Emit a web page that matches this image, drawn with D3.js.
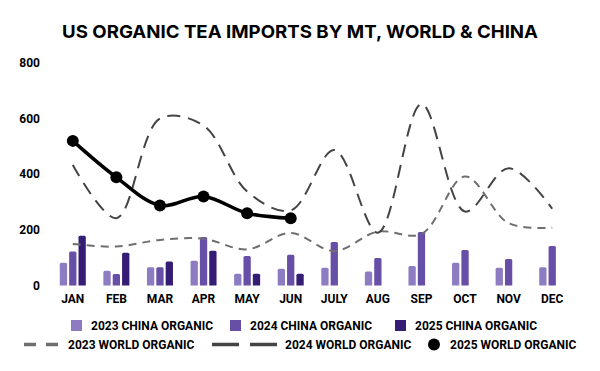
<!DOCTYPE html>
<html>
<head>
<meta charset="utf-8">
<script src="https://cdn.jsdelivr.net/npm/d3@7"></script>
<style>
  body { margin: 0; background: #fff; }
  text { font-family: Roboto, "Liberation Sans", sans-serif; font-weight: bold; fill: #000; }
</style>
</head>
<body>
<svg id="chart" width="600" height="371"></svg>
<script>
// data
var months = ["JAN", "FEB", "MAR", "APR", "MAY", "JUN", "JULY", "AUG", "SEP", "OCT", "NOV", "DEC"];
var china2023 = [82, 53, 66, 89, 42, 60, 64, 50, 70, 82, 64, 66];
var china2024 = [122, 41, 66, 174, 106, 111, 156, 99, 192, 128, 95, 142];
var china2025 = [179, 118, 86, 125, 42, 42];
var world2023 = [149, 140, 164, 168, 130, 189, 124, 194, 185, 392, 224, 208];
var world2024 = [433, 242, 600, 575, 338, 270, 487, 190, 652, 266, 422, 276];
var world2025 = [520, 389, 288, 320, 260, 242];
var yTicks = [0, 200, 400, 600, 800];

var svg = d3.select("#chart");

svg.append("text")
    .attr("x", 300).attr("y", 38)
    .attr("text-anchor", "middle")
    .attr("textLength", 476)
    .attr("lengthAdjust", "spacingAndGlyphs")
    .style("font-family", "Inter, Roboto, sans-serif")
    .style("font-size", "18px")
    .text("US ORGANIC TEA IMPORTS BY MT, WORLD & CHINA");

var x = d3.scaleBand().domain(months).range([51, 574]);
var y = d3.scaleLinear().domain([0, 800]).range([285.5, 63]);
var slot = d3.scaleBand().domain([0, 1, 2]).range([-13, 13]).paddingInner(0.22);

// y axis labels
svg.append("g").selectAll("text")
    .data(yTicks)
    .enter().append("text")
    .attr("x", 40)
    .attr("y", function (d) { return y(d); })
    .attr("dy", "0.35em")
    .attr("text-anchor", "end")
    .style("font-size", "12px")
    .text(function (d) { return d; });

// x axis labels
svg.append("g").selectAll("text")
    .data(months)
    .enter().append("text")
    .attr("x", function (d) { return x(d) + x.bandwidth() / 2; })
    .attr("y", 303)
    .attr("text-anchor", "middle")
    .style("font-size", "12px")
    .text(function (d) { return d; });

// bars
var barSeries = [
    { values: china2023, color: "#8e7cc3" },
    { values: china2024, color: "#674ea7" },
    { values: china2025, color: "#351c75" }
];

function barPath(x0, w, top, bottom, r) {
    return "M" + x0 + "," + bottom +
        "V" + (top + r) +
        "Q" + x0 + "," + top + " " + (x0 + r) + "," + top +
        "H" + (x0 + w - r) +
        "Q" + (x0 + w) + "," + top + " " + (x0 + w) + "," + (top + r) +
        "V" + bottom + "Z";
}

barSeries.forEach(function (s, i) {
    svg.append("g").selectAll("path")
        .data(s.values)
        .enter().append("path")
        .attr("fill", s.color)
        .attr("d", function (d, j) {
            var cx = x(months[j]) + x.bandwidth() / 2;
            return barPath(cx + slot(i), slot.bandwidth(), y(d), y(0), 1.5);
        });
});

// lines
var line = d3.line()
    .curve(d3.curveCatmullRom.alpha(0.5))
    .x(function (d, i) { return x(months[i]) + x.bandwidth() / 2; })
    .y(function (d) { return y(d); });

svg.append("path")
    .attr("d", line(world2023))
    .attr("fill", "none")
    .attr("stroke", "#6f6f6f")
    .attr("stroke-width", 2)
    .attr("stroke-dasharray", "8,6");

svg.append("path")
    .attr("d", line(world2024))
    .attr("fill", "none")
    .attr("stroke", "#444")
    .attr("stroke-width", 2)
    .attr("stroke-dasharray", "13,8");

svg.append("path")
    .attr("d", line(world2025))
    .attr("fill", "none")
    .attr("stroke", "#000")
    .attr("stroke-width", 3.5);

svg.append("g").selectAll("circle")
    .data(world2025)
    .enter().append("circle")
    .attr("cx", function (d, i) { return x(months[i]) + x.bandwidth() / 2; })
    .attr("cy", function (d) { return y(d); })
    .attr("r", 6)
    .attr("fill", "#000");

// legend
var legend = svg.append("g").style("font-size", "12px");

var row1 = [
    { label: "2023 CHINA ORGANIC", color: "#8e7cc3", x: 71 },
    { label: "2024 CHINA ORGANIC", color: "#674ea7", x: 230 },
    { label: "2025 CHINA ORGANIC", color: "#351c75", x: 395 }
];
row1.forEach(function (d) {
    legend.append("rect")
        .attr("x", d.x).attr("y", 320)
        .attr("width", 11).attr("height", 11)
        .attr("fill", d.color);
    legend.append("text")
        .attr("x", d.x + 20).attr("y", 326)
        .attr("dy", "0.35em")
        .text(d.label);
});

legend.append("line")
    .attr("x1", 24).attr("x2", 59).attr("y1", 344.5).attr("y2", 344.5)
    .attr("stroke", "#6f6f6f").attr("stroke-width", 3.5)
    .attr("stroke-dasharray", "12,10");
legend.append("text")
    .attr("x", 68).attr("y", 344.5).attr("dy", "0.35em")
    .text("2023 WORLD ORGANIC");

legend.append("line")
    .attr("x1", 212).attr("x2", 277).attr("y1", 344.5).attr("y2", 344.5)
    .attr("stroke", "#444").attr("stroke-width", 3.5)
    .attr("stroke-dasharray", "27,11");
legend.append("text")
    .attr("x", 285).attr("y", 344.5).attr("dy", "0.35em")
    .text("2024 WORLD ORGANIC");

legend.append("circle")
    .attr("cx", 434).attr("cy", 344.5).attr("r", 6)
    .attr("fill", "#000");
legend.append("text")
    .attr("x", 450).attr("y", 344.5).attr("dy", "0.35em")
    .text("2025 WORLD ORGANIC");
</script>
</body>
</html>
